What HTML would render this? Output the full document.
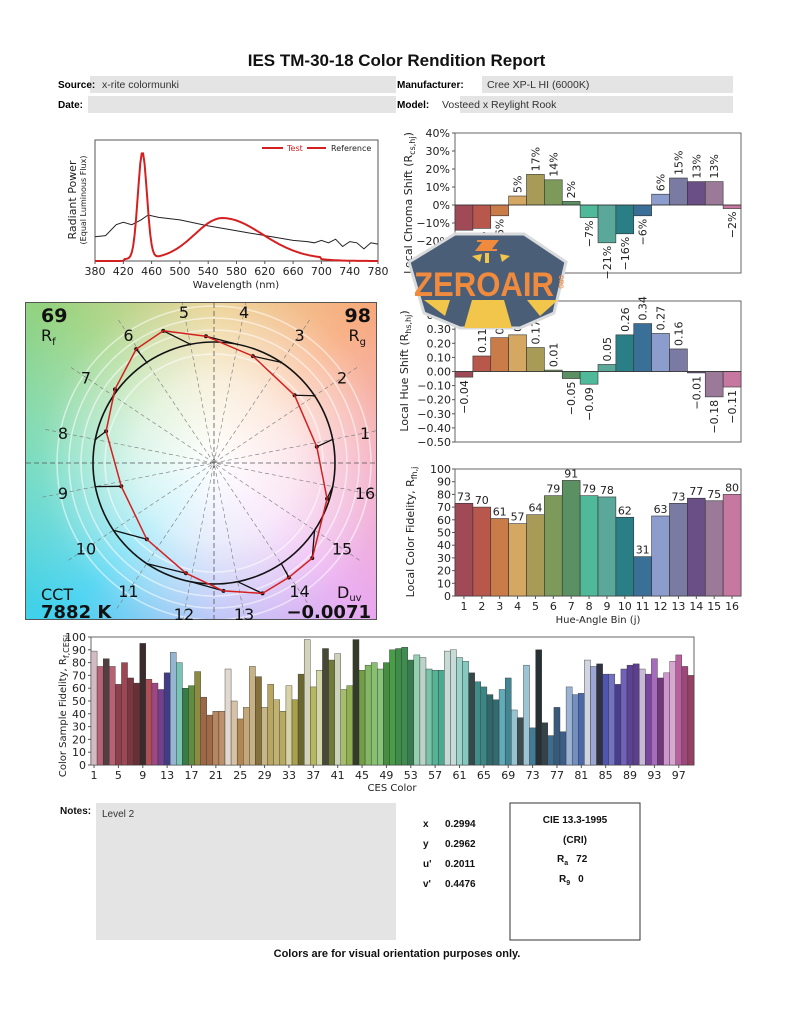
<!DOCTYPE html>
<html><head><meta charset="utf-8"><style>
html,body{margin:0;padding:0;background:#fff;}
#w{position:relative;width:793px;height:1024px;overflow:hidden;font-family:"Liberation Sans","DejaVu Sans",sans-serif;}
#panel{position:absolute;left:25px;top:302px;width:352px;height:318px;border:1px solid #555;box-sizing:border-box;
background:radial-gradient(circle at 54% 50%, rgba(255,255,255,1) 0px, rgba(255,255,255,0.75) 80px, rgba(255,255,255,0.15) 175px, rgba(255,255,255,0) 230px),
conic-gradient(from 90deg at 54% 50%, #f3a0b8 0deg, #e8a4ef 45deg, #a8b4f4 90deg, #3cd0f0 135deg, #6ad8b8 180deg, #98d27c 225deg, #e6c676 270deg, #f7a676 315deg, #f3a0b8 360deg);}
svg{position:absolute;left:0;top:0;}
</style></head><body><div id="w"><div id="panel"></div><svg id="s" width="793" height="1024" xmlns="http://www.w3.org/2000/svg"></svg></div>
<script>
var o=[];
function T(x,y,t,s,a,extra){o.push('<text x="'+x+'" y="'+y+'" font-size="'+s+'" text-anchor="'+(a||'start')+'" '+(extra||'')+'>'+t+'</text>');}
function R(x,y,w,h,f,st){o.push('<rect x="'+x+'" y="'+y+'" width="'+w+'" height="'+h+'" fill="'+f+'" '+(st||'')+'/>');}
function L(x1,y1,x2,y2,c,w,ex){o.push('<line x1="'+x1+'" y1="'+y1+'" x2="'+x2+'" y2="'+y2+'" stroke="'+c+'" stroke-width="'+(w||1)+'" '+(ex||'')+'/>');}
var DJ='font-family="DejaVu Sans, sans-serif" fill="#222"';
o.push('<defs><clipPath id="pc"><rect x="26" y="303" width="350" height="316"/></clipPath></defs>');
T(396.5,66,'IES TM-30-18 Color Rendition Report',17,'middle','font-weight="bold" fill="#111"');
R(90,76,306,17,'#e4e4e4');R(482,76,251,17,'#e4e4e4');R(88,96,308,17,'#e4e4e4');R(460,96,273,17,'#e4e4e4');
T(58,88,'Source:',10,'start','font-weight="bold"');T(102,88,'x-rite colormunki',10.5,'start','fill="#333"');
T(58,108,'Date:',10,'start','font-weight="bold"');
T(397,88,'Manufacturer:',10,'start','font-weight="bold"');T(487,88,'Cree XP-L HI (6000K)',10.5,'start','fill="#333"');
T(397,108,'Model:',10,'start','font-weight="bold"');T(442,108,'Vosteed x Reylight Rook',10.5,'start','fill="#333"');
var sx=function(l){return 95+(l-380)*283/400;},sy=function(v){return 261-v*121;};
R(95,140,283,121,'#fff','stroke="#555" stroke-width="1"');
var refp=[[380,.2],[395,.21],[410,.3],[420,.32],[432,.3],[445,.34],[455,.38],[470,.36],[500,.34],[540,.29],[570,.26],[600,.23],[630,.2],[660,.17],[680,.16],[690,.15],[700,.17],[710,.15],[720,.18],[730,.12],[740,.16],[750,.15],[760,.1],[770,.15],[780,.14]];
var p='';refp.forEach(function(q,i){p+=(i?'L':'M')+sx(q[0]).toFixed(1)+','+sy(q[1]).toFixed(1);});
o.push('<path d="'+p+'" fill="none" stroke="#222" stroke-width="1"/>');
p='';for(var l=380;l<=780;l+=2){var g1=.88*Math.exp(-Math.pow((l-447)/9,2));var s2=l<560?55:80;var g2=.34*Math.exp(-Math.pow((l-560)/s2,2));var v=g1+g2+(l>420&&l<700?0.015:0);p+=(l==380?'M':'L')+sx(l).toFixed(1)+','+sy(v).toFixed(1);}
o.push('<path d="'+p+'" fill="none" stroke="#d42020" stroke-width="2"/>');
for(var l=380;l<=780;l+=40){L(sx(l),261,sx(l),264,'#555');T(sx(l),275,l,11,'middle',DJ);}
T(236,288,'Wavelength (nm)',10,'middle',DJ);
T(0,0,'Radiant Power',11,'middle',DJ+' transform="translate(76,200) rotate(-90)"');
T(0,0,'(Equal Luminous Flux)',8,'middle',DJ+' transform="translate(86,200) rotate(-90)"');
L(262,148,283,148,'#d42020',2);T(287,151,'Test',8,'start','font-family="DejaVu Sans" fill="#d42020"');
L(307,148,326,148,'#d42020',2);T(331,151,'Reference',8,'start',DJ);
var bc=['#a04a57','#b8584c','#c97c48','#d4a862','#a89b57','#7d9a5a','#5b9062','#4fb99a','#5aa89a','#2a7f86','#3a6f98','#8c9ccc','#7a7aa2','#6a4f86','#9a7a98','#c678a0'];
var cs=[-14,-13,-6,5,17,14,2,-7,-21,-16,-6,6,15,13,13,-2];
var hs=[-0.04,0.11,0.24,0.26,0.17,0.01,-0.05,-0.09,0.05,0.26,0.34,0.27,0.16,-0.01,-0.18,-0.11];
var rf=[73,70,61,57,64,79,91,79,78,62,31,63,73,77,75,80];
var X0=455,BW=286/16;
R(455,133,286,140,'#fff','stroke="#666"');
var cy=function(v){return 205-v*1.8;};
for(var k=0;k<16;k++){var y1=cy(Math.max(cs[k],0)),h=Math.abs(cs[k])*1.8;R(X0+k*BW,y1,BW,h,bc[k],'stroke="#333" stroke-width="0.6"');
var lx=X0+k*BW+BW/2+4,t=(cs[k]<0?'\u2212'+(-cs[k]):cs[k])+'%';
if(cs[k]>=0)T(0,0,t,11,'start',DJ+' transform="translate('+lx+','+(cy(cs[k])-3)+') rotate(-90)"');else T(0,0,t,11,'end',DJ+' transform="translate('+lx+','+(cy(cs[k])+3)+') rotate(-90)"');}
L(455,205,741,205,'#333',0.8);
for(var v=-30;v<=40;v+=10){L(452,cy(v),455,cy(v),'#555');T(450,cy(v)+4,(v<0?'\u2212'+(-v):v)+'%',11,'end',DJ);}
T(0,0,'Local Chroma Shift (R<tspan font-size="8" dy="3">cs,hj</tspan><tspan dy="-3">)</tspan>',11,'middle',DJ+' transform="translate(412,203) rotate(-90)"');
R(455,301,286,141,'#fff','stroke="#666"');
var hy=function(v){return 371.5-v*141;};
for(var k=0;k<16;k++){var y1=hy(Math.max(hs[k],0)),h=Math.abs(hs[k])*141;R(X0+k*BW,y1,BW,h,bc[k],'stroke="#333" stroke-width="0.6"');
var lx=X0+k*BW+BW/2+4,t=(hs[k]<0?'\u2212'+(-hs[k]).toFixed(2):hs[k].toFixed(2));
if(hs[k]>=0)T(0,0,t,11,'start',DJ+' transform="translate('+lx+','+(hy(hs[k])-3)+') rotate(-90)"');else T(0,0,t,11,'end',DJ+' transform="translate('+lx+','+(hy(hs[k])+3)+') rotate(-90)"');}
L(455,371.5,741,371.5,'#333',0.8);
for(var v=-5;v<=5;v++){L(452,hy(v/10),455,hy(v/10),'#555');T(451,hy(v/10)+4,(v<0?'\u2212':'')+(Math.abs(v)/10).toFixed(2),11,'end',DJ);}
T(0,0,'Local Hue Shift (R<tspan font-size="8" dy="3">hs,hj</tspan><tspan dy="-3">)</tspan>',11,'middle',DJ+' transform="translate(408,371) rotate(-90)"');
R(455,469,286,127,'#fff','stroke="#666"');
var fy=function(v){return 596-v*1.27;};
for(var k=0;k<16;k++){R(X0+k*BW,fy(rf[k]),BW,rf[k]*1.27,bc[k],'stroke="#333" stroke-width="0.6"');T(X0+k*BW+BW/2,fy(rf[k])-3,rf[k],11,'middle',DJ);
L(X0+k*BW+BW/2,596,X0+k*BW+BW/2,599,'#555');T(X0+k*BW+BW/2,610,k+1,11,'middle',DJ);}
for(var v=0;v<=100;v+=10){L(452,fy(v),455,fy(v),'#555');T(451,fy(v)+4,v,11,'end',DJ);}
T(598,623,'Hue-Angle Bin (j)',10,'middle',DJ);
T(0,0,'Local Color Fidelity, R<tspan font-size="8" dy="3">fh,j</tspan>',11,'middle',DJ+' transform="translate(414,532) rotate(-90)"');
var cx=214,cyy=463,Rr=121;
o.push('<g clip-path="url(#pc)">');
[109,133,145,157].forEach(function(r){o.push('<circle cx="'+cx+'" cy="'+cyy+'" r="'+r+'" fill="none" stroke="#fff" stroke-width="1.5" opacity="0.55"/>');});
for(var k=0;k<8;k++){var a=(k*22.5+11.25)*Math.PI/180;L(cx-175*Math.cos(a),cyy+175*Math.sin(a),cx+175*Math.cos(a),cyy-175*Math.sin(a),'#777',0.6,'stroke-dasharray="4,3"');}
L(26,cyy,376,cyy,'#555',0.8,'stroke-dasharray="5,3"');L(cx,303,cx,619,'#555',0.8,'stroke-dasharray="5,3"');
o.push('</g>');
o.push('<circle cx="'+cx+'" cy="'+cyy+'" r="'+Rr+'" fill="none" stroke="#111" stroke-width="1.6"/>');
var pts=[];for(var k=0;k<16;k++){var th=(k+0.5)*22.5*Math.PI/180;var th2=th+hs[k];var r=Rr*(1+cs[k]/100);
var tx=cx+r*Math.cos(th2),ty=cyy-r*Math.sin(th2);pts.push(tx.toFixed(1)+','+ty.toFixed(1));
L(cx+Rr*Math.cos(th),cyy-Rr*Math.sin(th),tx,ty,'#111',1.3);o.push('<circle cx="'+tx+'" cy="'+ty+'" r="2" fill="#111"/>');}
o.push('<polygon points="'+pts.join(' ')+'" fill="none" stroke="#d42020" stroke-width="1.5"/>');
for(var k=0;k<16;k++){var th=(k+0.5)*22.5*Math.PI/180;T(cx+154*Math.cos(th),cyy-154*Math.sin(th)+6,k+1,16,'middle','font-family="DejaVu Sans, sans-serif" fill="#111"');}
var DB='font-family="DejaVu Sans, sans-serif" fill="#111" font-weight="bold"';
T(41,322,'69',19,'start',DB);T(41,341,'R<tspan font-size="10" dy="4">f</tspan>',16,'start','font-family="DejaVu Sans" fill="#111"');
T(371,322,'98',19,'end',DB);T(366,341,'R<tspan font-size="10" dy="4">g</tspan>',16,'end','font-family="DejaVu Sans" fill="#111"');
T(41,600,'CCT',16,'start','font-family="DejaVu Sans" fill="#111"');T(41,618,'7882 K',18,'start',DB);
T(337,598,'D<tspan font-size="10" dy="3">uv</tspan>',16,'start','font-family="DejaVu Sans" fill="#111"');T(371,618,'\u22120.0071',18,'end',DB);
var ces=[89,77,83,77,63,80,68,64,95,67,64,59,72,88,80,60,62,73,53,39,42,42,75,50,36,45,77,69,45,63,51,42,62,51,71,98,61,74,91,82,87,59,62,98,74,78,80,75,80,90,91,92,82,86,84,75,74,74,89,90,84,81,72,65,61,55,51,59,68,43,37,78,29,90,33,23,45,26,61,55,56,82,77,79,71,71,63,75,78,79,75,71,83,68,72,81,86,77,70];
var hues=[[1,345],[10,355],[19,22],[24,32],[30,48],[36,58],[43,80],[50,120],[56,160],[62,172],[68,188],[74,200],[80,218],[86,240],[92,275],[99,335]];
function hueAt(i){for(var j=0;j<hues.length-1;j++){if(i<=hues[j+1][0]){var f=(i-hues[j][0])/(hues[j+1][0]-hues[j][0]);return hues[j][1]+f*(hues[j+1][1]-hues[j][1]);}}return 335;}
var Ls=[78,55,28,55,40,45,35,30,20,50,45,40,38,70,62,35,40,40,45,45,55,58,85,75,50,62,65,38,65,55,60,55,75,48,30,78,55,75,25,35,78,58,50,20,45,55,60,62,40,45,40,40,35,70,78,62,52,48,82,82,72,65,25,40,38,30,32,55,42,70,28,72,42,18,25,40,35,38,72,60,48,85,72,22,50,60,40,55,42,40,78,45,58,35,70,75,55,45,42];
var bw=603/99;
R(91,637,603,128,'#fff','stroke="#666"');
for(var i=0;i<99;i++){var hh=hueAt(i+1)%360,l=Ls[i],sat=l<30?15:(l>75?22:38);
R((91+i*bw).toFixed(2),(765-ces[i]*1.28).toFixed(2),bw.toFixed(2),(ces[i]*1.28).toFixed(2),'hsl('+hh.toFixed(0)+','+sat+'%,'+l+'%)','stroke="#333" stroke-width="0.4"');}
for(var v=0;v<=100;v+=10){L(88,765-v*1.28,91,765-v*1.28,'#555');T(86,769-v*1.28,v,11,'end',DJ);}
for(var i=1;i<=97;i+=4){var x=91+(i-0.5)*bw;L(x,765,x,768,'#555');T(x,779,i,11,'middle',DJ);}
T(392,791,'CES Color',10,'middle',DJ);
T(0,0,'Color Sample Fidelity, R<tspan font-size="8" dy="3">f,CESi</tspan>',10,'middle',DJ+' transform="translate(66,706) rotate(-90)"');
R(96,803,300,137,'#e4e4e4');T(60,814,'Notes:',10,'start','font-weight="bold" fill="#111"');T(102,817,'Level 2',10,'start','fill="#333"');
var xy=[['x','0.2994'],['y','0.2962'],["u'",'0.2011'],["v'",'0.4476']];
xy.forEach(function(q,i){T(423,827+i*20,q[0],10,'start','font-weight="bold" fill="#111"');T(445,827+i*20,q[1],10,'start','font-weight="bold" fill="#111"');});
R(510,803,130,137,'#fff','stroke="#333" stroke-width="1"');
T(575,823,'CIE 13.3-1995',10,'middle','font-weight="bold" fill="#111"');T(575,843,'(CRI)',10,'middle','font-weight="bold" fill="#111"');
T(557,862,'R<tspan font-size="7" dy="3">a</tspan><tspan dy="-3" dx="8">72</tspan>',10,'start','font-weight="bold" fill="#111"');
T(559,882,'R<tspan font-size="7" dy="3">9</tspan><tspan dy="-3" dx="8">0</tspan>',10,'start','font-weight="bold" fill="#111"');
T(397,957,'Colors are for visual orientation purposes only.',11,'middle','font-weight="bold" fill="#111"');
o.push('<polygon points="455,234 524,234 566,262 554,313 520,328 460,328 424,313 409,262" fill="#4b5e78" stroke="#d8dadc" stroke-width="3"/>');
o.push('<polygon points="424,300 450,300 445,316" fill="#f2c64a"/><polygon points="472,300 504,300 512,328 464,328" fill="#f2c64a"/><polygon points="527,300 558,300 540,316" fill="#f2c64a"/>');
o.push('<polygon points="477,241 497,241 490,250 497,250 477,250 484,241" fill="#f08a3c" stroke="#f08a3c" stroke-width="2"/><polygon points="472,256 482,254 480,262" fill="#f2c64a"/><polygon points="500,254 510,256 502,262" fill="#f2c64a"/><rect x="485" y="253" width="4" height="10" fill="#f2c64a"/>');
T(484,296,'ZEROAIR',34,'middle','font-weight="bold" fill="#f08a3c" textLength="140" lengthAdjust="spacingAndGlyphs"');
T(0,0,'ORG',6,'middle','font-weight="bold" fill="#f08a3c" transform="translate(559,282) rotate(90)"');
document.getElementById('s').innerHTML=o.join('');
</script></body></html>
